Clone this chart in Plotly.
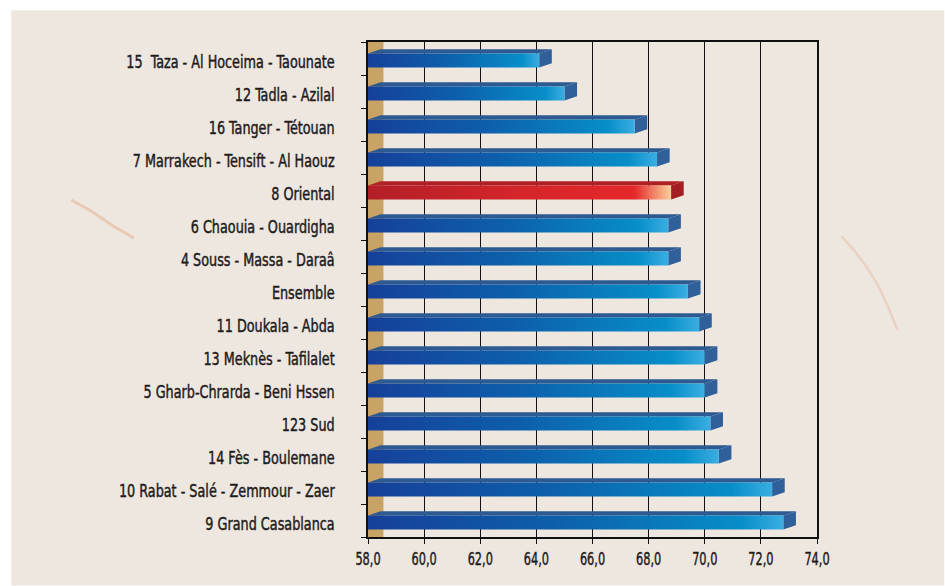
import plotly.graph_objects as go

categories = [
    "15  Taza - Al Hoceima - Taounate",
    "12 Tadla - Azilal",
    "16 Tanger - Tétouan",
    "7 Marrakech - Tensift - Al Haouz",
    "8 Oriental",
    "6 Chaouia - Ouardigha",
    "4 Souss - Massa - Daraâ",
    "Ensemble",
    "11 Doukala - Abda",
    "13 Meknès - Tafilalet",
    "5 Gharb-Chrarda - Beni Hssen",
    "123 Sud",
    "14 Fès - Boulemane",
    "10 Rabat - Salé - Zemmour - Zaer",
    "9 Grand Casablanca",
]
values = [64.1, 65.0, 67.5, 68.3, 68.8, 68.7, 68.7, 69.4, 69.8, 70.0, 70.0, 70.2, 70.5, 72.4, 72.8]
highlight = "8 Oriental"
x_ticks = [58, 60, 62, 64, 66, 68, 70, 72, 74]
x_tick_labels = ["58,0", "60,0", "62,0", "64,0", "66,0", "68,0", "70,0", "72,0", "74,0"]

BASE = 58.0
X_MAX = 74.0
DX = 0.45      # 3D depth offset (value units)
DY = 0.13      # 3D depth offset (category units)
UP = 0.148     # front face top above category centre
DOWN = 0.275   # front face bottom below category centre

FONT = "Noto Sans Condensed, Liberation Sans Narrow, DejaVu Sans Condensed, sans-serif"
TEXT = "#1e1b1c"

blue_front = [[0, "#16409a"], [0.45, "#0d5fab"], [0.9, "#078ec9"], [1.0, "#3aaee2"]]
red_front = [[0, "#b31f27"], [0.5, "#d4252a"], [0.88, "#e5282a"], [0.95, "#f28c6e"], [1.0, "#fbd09a"]]

fig = go.Figure()

for k, (cat, v) in enumerate(zip(categories, values)):
    red = cat == highlight
    ft = k - UP
    fb = k + DOWN
    top_col = "#b02127" if red else "#2d5a90"
    side_col = "#a41e22" if red else "#30609a"
    fig.add_trace(go.Scatter(
        x=[BASE, v, v + DX, BASE + DX, BASE],
        y=[ft, ft, ft - DY, ft - DY, ft],
        fill="toself", fillcolor=top_col, mode="lines",
        line=dict(width=0), hoverinfo="skip", showlegend=False))
    fig.add_trace(go.Scatter(
        x=[v, v, v + DX, v + DX, v],
        y=[fb, ft, ft - DY, fb - DY, fb],
        fill="toself", fillcolor=side_col, mode="lines",
        line=dict(width=0), hoverinfo="skip", showlegend=False))
    fig.add_trace(go.Scatter(
        x=[BASE, v, v, BASE, BASE],
        y=[fb, fb, ft, ft, fb],
        fill="toself", mode="lines", line=dict(width=0),
        fillgradient=dict(type="horizontal",
                          colorscale=red_front if red else blue_front),
        hoverinfo="skip", showlegend=False))

n = len(categories)

# plot area in pixels
PL, PR, PT, PB = 367.5, 817.5, 41.7, 537.5
W, H = 945, 586


def px(x):
    return (x - PL) / (PR - PL)


def py(y):
    return (PB - y) / (PB - PT)


def vein(points):
    return "M " + " L ".join(f"{px(a):.4f},{py(b):.4f}" for a, b in points)


shapes = [
    dict(type="rect", xref="paper", yref="paper",
         x0=px(10), x1=px(W), y0=py(H), y1=py(10),
         fillcolor="#eee7df", line=dict(width=0), layer="below"),
    dict(type="path", xref="paper", yref="paper",
         path=vein([(70, 200), (90, 211), (112, 226), (133, 238)]),
         line=dict(color="rgba(222,150,100,0.35)", width=3), layer="below"),
    dict(type="path", xref="paper", yref="paper",
         path=vein([(842, 236), (856, 252), (868, 268), (880, 288), (890, 310), (898, 330)]),
         line=dict(color="rgba(225,160,130,0.3)", width=2.5), layer="below"),
    dict(type="rect", xref="x", yref="paper", x0=BASE, x1=BASE + 0.55, y0=0, y1=1,
         fillcolor="#c9a265", line=dict(width=0), layer="below"),
]

fig.update_layout(
    width=W, height=H,
    margin=dict(l=PL, r=W - PR, t=PT, b=H - PB, pad=0),
    paper_bgcolor="white",
    plot_bgcolor="rgba(0,0,0,0)",
    showlegend=False,
    shapes=shapes,
    font=dict(family=FONT, color=TEXT, size=17),
    xaxis=dict(
        range=[BASE, X_MAX], tickvals=x_ticks, ticktext=x_tick_labels,
        showgrid=True, gridcolor="#111111", gridwidth=1.3,
        showline=True, linecolor="#111111", linewidth=1.5, mirror=True,
        ticks="outside", ticklen=5, tickcolor="#111111",
        tickfont=dict(family=FONT, size=18, color=TEXT),
        zeroline=False, fixedrange=True,
    ),
    yaxis=dict(
        range=[n - 0.5, -0.5],
        tickvals=list(range(n)), ticktext=categories,
        ticks="", showgrid=False,
        showline=True, linecolor="#111111", linewidth=1.5, mirror=True,
        minor=dict(tickvals=[i + 0.5 for i in range(-1, n)], ticks="outside",
                   ticklen=5, tickcolor="#111111", showgrid=False),
        ticklabelstandoff=28,
        tickfont=dict(family=FONT, size=18, color=TEXT),
        zeroline=False, fixedrange=True,
    ),
)

post = """
document.body.style.margin='0';document.body.style.padding='0';
document.body.style.overflow='hidden';
function condense(sel, s, dy, mode){
  document.querySelectorAll(sel).forEach(function(t){
    var bb = t.getBBox();
    var ax = mode === 'end' ? bb.x + bb.width : bb.x + bb.width / 2;
    var tr = t.getAttribute('transform') || '';
    t.setAttribute('transform', tr + ' translate(' + ax + ',' + dy + ') scale(' + s + ',1) translate(' + (-ax) + ',0)');
    t.style.stroke = '""" + TEXT + """';
    t.style.strokeWidth = '0.45px';
  });
}
condense('g.ytick text', 0.79, 3, 'end');
condense('g.xtick text', 0.70, 0, 'middle');
"""

fig.write_html("out.html", post_script=post, config={"displayModeBar": False})
